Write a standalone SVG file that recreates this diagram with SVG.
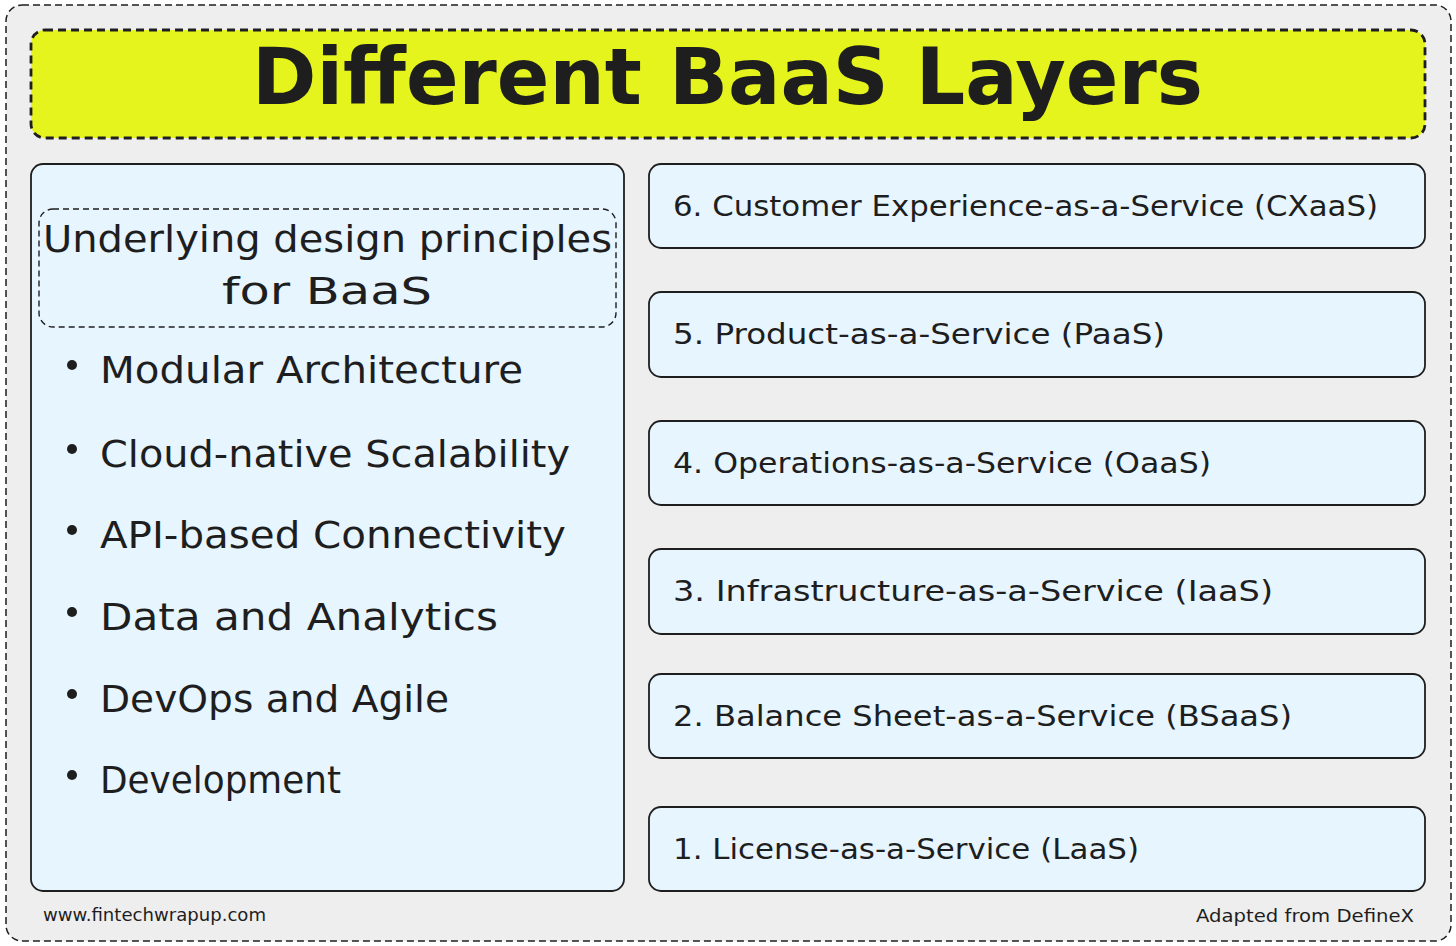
<svg xmlns="http://www.w3.org/2000/svg" width="1456" height="946" viewBox="0 0 1456 946">
<style>
.t{font-family:"DejaVu Sans","Liberation Sans",sans-serif;fill:#1e1e1e}
.box{fill:#e7f5ff;stroke:#1e1e1e;stroke-width:1.8}
.layer{font-size:29px}
.bul{font-size:38px}
</style>
<g id="frame">
<rect x="6" y="5" width="1445" height="936" rx="16" fill="#eeeeee" stroke="#1e1e1e" stroke-width="1.5" stroke-dasharray="7 4"/>
</g>
<g id="title">
<rect x="31" y="30" width="1394" height="108" rx="14" fill="#e6f41e" stroke="#1e1e1e" stroke-width="2.8" stroke-dasharray="8 5"/>
<text class="t" x="252" y="104" font-size="78" font-weight="bold" textLength="951" lengthAdjust="spacingAndGlyphs">Different BaaS Layers</text>
</g>
<g id="principles">
<rect class="box" x="31" y="164" width="593" height="727" rx="12"/>
<rect x="39" y="209" width="577" height="118" rx="14" fill="none" stroke="#1e1e1e" stroke-width="1.4" stroke-dasharray="6 4"/>
<text class="t" x="43" y="252" font-size="38" textLength="569" lengthAdjust="spacingAndGlyphs">Underlying design principles</text>
<text class="t" x="222" y="304" font-size="38" textLength="210" lengthAdjust="spacingAndGlyphs">for BaaS</text>
<g>
<circle class="t" cx="72" cy="365" r="5"/><text class="t bul" x="100" y="383" textLength="423" lengthAdjust="spacingAndGlyphs">Modular Architecture</text>
<circle class="t" cx="72" cy="449" r="5"/><text class="t bul" x="100" y="467" textLength="470" lengthAdjust="spacingAndGlyphs">Cloud-native Scalability</text>
<circle class="t" cx="72" cy="530" r="5"/><text class="t bul" x="100" y="548" textLength="466" lengthAdjust="spacingAndGlyphs">API-based Connectivity</text>
<circle class="t" cx="72" cy="612" r="5"/><text class="t bul" x="100" y="630" textLength="398" lengthAdjust="spacingAndGlyphs">Data and Analytics</text>
<circle class="t" cx="72" cy="694" r="5"/><text class="t bul" x="100" y="712" textLength="349" lengthAdjust="spacingAndGlyphs">DevOps and Agile</text>
<circle class="t" cx="72" cy="775" r="5"/><text class="t bul" x="100" y="793" textLength="241" lengthAdjust="spacingAndGlyphs">Development</text>
</g>
</g>
<g id="layer6">
<rect class="box" x="649" y="164" width="776" height="84" rx="12"/>
<text class="t layer" x="673" y="216" textLength="705" lengthAdjust="spacingAndGlyphs">6. Customer Experience-as-a-Service (CXaaS)</text>
</g>
<g id="layer5">
<rect class="box" x="649" y="292" width="776" height="85" rx="12"/>
<text class="t layer" x="673" y="344" textLength="492" lengthAdjust="spacingAndGlyphs">5. Product-as-a-Service (PaaS)</text>
</g>
<g id="layer4">
<rect class="box" x="649" y="421" width="776" height="84" rx="12"/>
<text class="t layer" x="673" y="473" textLength="538" lengthAdjust="spacingAndGlyphs">4. Operations-as-a-Service (OaaS)</text>
</g>
<g id="layer3">
<rect class="box" x="649" y="549" width="776" height="85" rx="12"/>
<text class="t layer" x="673" y="601" textLength="600" lengthAdjust="spacingAndGlyphs">3. Infrastructure-as-a-Service (IaaS)</text>
</g>
<g id="layer2">
<rect class="box" x="649" y="674" width="776" height="84" rx="12"/>
<text class="t layer" x="673" y="726" textLength="619" lengthAdjust="spacingAndGlyphs">2. Balance Sheet-as-a-Service (BSaaS)</text>
</g>
<g id="layer1">
<rect class="box" x="649" y="807" width="776" height="84" rx="12"/>
<text class="t layer" x="673" y="859" textLength="466" lengthAdjust="spacingAndGlyphs">1. License-as-a-Service (LaaS)</text>
</g>
<g id="connectors"></g>
<g id="footer">
<text class="t" x="43" y="921" font-size="18" textLength="223" lengthAdjust="spacingAndGlyphs">www.fintechwrapup.com</text>
<text class="t" x="1196" y="922" font-size="18" textLength="218" lengthAdjust="spacingAndGlyphs">Adapted from DefineX</text>
</g>
</svg>
